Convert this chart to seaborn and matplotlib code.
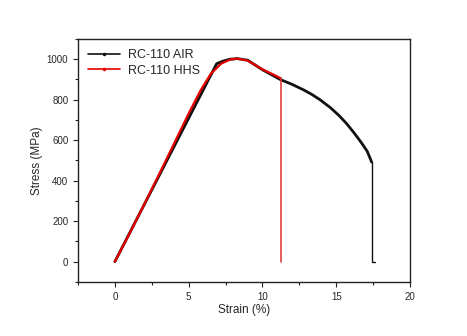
import numpy as np
import pandas as pd
import matplotlib
matplotlib.use("Agg")
import matplotlib.pyplot as plt
from matplotlib.lines import Line2D
from matplotlib.ticker import MultipleLocator
import seaborn as sns

# Tensile test curves (strain %, stress MPa) up to fracture
air_strain = [0.0, 6.9, 7.3, 7.8, 8.3, 9.0, 10.0, 11.2, 12.0, 12.8, 13.3, 13.9, 14.6, 15.2,
              15.7, 16.2, 16.7, 17.1, 17.4]
air_stress = [0, 978, 990, 1000, 1003, 995, 948, 900, 876, 848, 828, 800, 761, 721,
              682, 637, 588, 545, 492]
# post-fracture drop
air_drop_strain = [17.4, 17.4, 17.6]
air_drop_stress = [492, 0, 0]

hhs_strain = [0.0, 1.0, 2.0, 3.0, 4.0, 5.0, 5.8, 6.5, 7.2, 7.8, 8.3, 9.0, 10.0, 11.0, 11.25]
hhs_stress = [0, 140, 285, 432, 582, 732, 845, 928, 978, 998, 1003, 993, 950, 915, 905]
hhs_drop_strain = [11.25, 11.25]
hhs_drop_stress = [905, 0]

labels = ["RC-110 AIR", "RC-110 HHS"]
colors = ["#111111", "#e60000"]

sns.set_style("white")
plt.rcParams["font.family"] = ["Liberation Sans", "DejaVu Sans"]

fig = plt.figure(figsize=(4.67, 3.36), dpi=100)
ax = fig.add_axes([0.167, 0.161, 0.711, 0.723])

def draw(xs, ys, color, lw):
    df = pd.DataFrame({"strain": xs, "stress": ys})
    sns.lineplot(data=df, x="strain", y="stress", sort=False, estimator=None,
                 color=color, lw=lw, ax=ax)

draw(air_strain, air_stress, colors[0], 2.0)
draw(air_drop_strain, air_drop_stress, colors[0], 1.0)
draw(hhs_strain, hhs_stress, colors[1], 1.6)
draw(hhs_drop_strain, hhs_drop_stress, "#e03030", 1.1)

for line in ax.lines:
    line.set_solid_joinstyle("round")

ax.set_xlim(-2.5, 20)
ax.set_ylim(-100, 1100)
ax.xaxis.set_major_locator(MultipleLocator(5))
ax.xaxis.set_minor_locator(MultipleLocator(2.5))
ax.yaxis.set_major_locator(MultipleLocator(200))
ax.yaxis.set_minor_locator(MultipleLocator(100))
ax.tick_params(which="both", direction="out", bottom=True, left=True, top=False, right=False,
               labelsize=7, color="#222222", width=0.8)
ax.tick_params(which="major", length=3.5)
ax.tick_params(which="minor", length=2)

for s in ax.spines.values():
    s.set_color("#222222")
    s.set_linewidth(1.0)

ax.set_xlabel("Strain (%)", fontsize=8.5, labelpad=2)
ax.set_ylabel("Stress (MPa)", fontsize=8.5, labelpad=3)

handles = [Line2D([0], [0], color=c, lw=1.2, marker=".", markersize=3) for c in colors]
ax.legend(handles, labels, loc="upper left", frameon=False, fontsize=9,
          handlelength=2.6, handletextpad=0.6, borderaxespad=0.4, labelspacing=0.3)

fig.savefig("out.png", dpi=100)
